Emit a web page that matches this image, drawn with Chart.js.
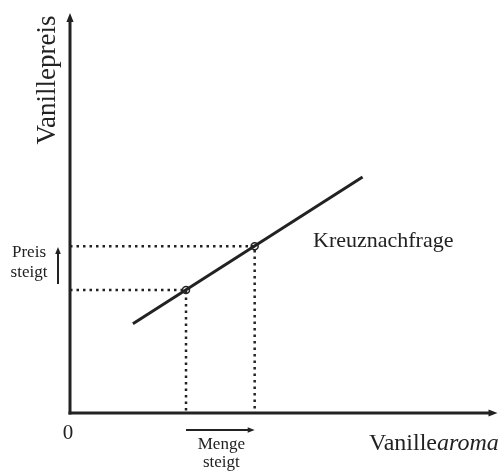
<!DOCTYPE html>
<html>
<head>
<meta charset="utf-8">
<script src="https://cdn.jsdelivr.net/npm/chart.js@4/dist/chart.umd.min.js"></script>
<style>
  html, body { margin: 0; padding: 0; background: #fff; }
  #wrap { width: 502px; height: 471px; }
</style>
</head>
<body>
<div id="wrap"><canvas id="chart" width="502" height="471"></canvas></div>
<script>
// demand curve end points (x = Menge, y = Preis), axis units 0..100
const curveX = [14.75, 68.6];
const curveY = [22.4, 59.3];
// the two marked points on the curve
const pointX = [27.2, 43.3];
const pointY = [30.9, 41.9];

const FONT = '"Liberation Serif", "DejaVu Serif", serif';
const INK = "#222";

const curve = curveX.map((x, i) => ({ x: x, y: curveY[i] }));
const marks = pointX.map((x, i) => ({ x: x, y: pointY[i] }));
const guides = marks.map((p) => [{ x: 0, y: p.y }, { x: p.x, y: p.y }, { x: p.x, y: 0 }]);

function arrow(ctx, x1, y1, x2, y2, head) {
  const a = Math.atan2(y2 - y1, x2 - x1);
  ctx.beginPath();
  ctx.moveTo(x1, y1);
  ctx.lineTo(x2 - Math.cos(a) * head * 0.8, y2 - Math.sin(a) * head * 0.8);
  ctx.stroke();
  ctx.beginPath();
  ctx.moveTo(x2, y2);
  ctx.lineTo(x2 - Math.cos(a) * head - Math.sin(a) * head * 0.4, y2 - Math.sin(a) * head + Math.cos(a) * head * 0.4);
  ctx.lineTo(x2 - Math.cos(a) * head + Math.sin(a) * head * 0.4, y2 - Math.sin(a) * head - Math.cos(a) * head * 0.4);
  ctx.closePath();
  ctx.fill();
}

const annotations = {
  id: "annotations",
  beforeDatasetsDraw(chart) {
    const { ctx, chartArea: a } = chart;
    ctx.save();
    ctx.strokeStyle = INK;
    ctx.fillStyle = INK;
    ctx.lineWidth = 3;
    // axes with arrow heads
    arrow(ctx, a.left, a.bottom + 1.5, a.left, a.top - 2, 9);
    arrow(ctx, a.left - 1.5, a.bottom, a.right + 1, a.bottom, 9);
    ctx.restore();
  },
  afterDraw(chart) {
    const { ctx, scales } = chart;
    const xs = scales.x;
    ctx.save();
    ctx.fillStyle = INK;
    ctx.strokeStyle = INK;
    ctx.textBaseline = "middle";

    // y axis title
    ctx.save();
    ctx.translate(48, 80);
    ctx.rotate(-Math.PI / 2);
    ctx.textAlign = "center";
    ctx.font = "27px " + FONT;
    ctx.fillText("Vanillepreis", 0, 0);
    ctx.restore();

    // x axis title, second half italic
    ctx.textAlign = "left";
    ctx.font = "24px " + FONT;
    const w1 = ctx.measureText("Vanille").width;
    ctx.fillText("Vanille", 369, 444);
    ctx.font = "italic 24px " + FONT;
    ctx.fillText("aroma", 369 + w1, 444);

    // origin
    ctx.textAlign = "center";
    ctx.font = "21px " + FONT;
    ctx.fillText("0", 68, 433);

    // curve label
    ctx.textAlign = "left";
    ctx.font = "22px " + FONT;
    ctx.fillText("Kreuznachfrage", 313, 241);

    // price rises
    ctx.textAlign = "center";
    ctx.font = "17px " + FONT;
    ctx.fillText("Preis", 29, 253);
    ctx.fillText("steigt", 29, 273);
    ctx.lineWidth = 2;
    arrow(ctx, 58, 284, 58, 247, 7);

    // quantity rises
    const xa = xs.getPixelForValue(pointX[0]);
    const xb = xs.getPixelForValue(pointX[1]);
    ctx.fillText("Menge", (xa + xb) / 2 + 1, 445);
    ctx.fillText("steigt", (xa + xb) / 2 + 1, 463);
    arrow(ctx, xa, 430, xb, 430, 7);
    ctx.restore();
  },
};

new Chart(document.getElementById("chart"), {
  type: "scatter",
  data: {
    datasets: [
      ...guides.map((g) => ({
        data: g,
        showLine: true,
        borderColor: INK,
        borderWidth: 2.5,
        borderDash: [2.5, 4],
        pointRadius: 0,
        fill: false,
      })),
      {
        data: curve,
        showLine: true,
        borderColor: INK,
        borderWidth: 3,
        pointRadius: 0,
      },
      {
        data: marks,
        showLine: false,
        pointRadius: 3.5,
        pointBackgroundColor: "#fff",
        pointBorderColor: INK,
        pointBorderWidth: 1.5,
      },
    ],
  },
  options: {
    responsive: false,
    animation: false,
    layout: { padding: { left: 70, top: 15, right: 5, bottom: 58 } },
    plugins: { legend: { display: false }, tooltip: { enabled: false } },
    scales: {
      x: { type: "linear", min: 0, max: 100, display: false },
      y: { type: "linear", min: 0, max: 100, display: false },
    },
  },
  plugins: [annotations],
});
</script>
</body>
</html>
